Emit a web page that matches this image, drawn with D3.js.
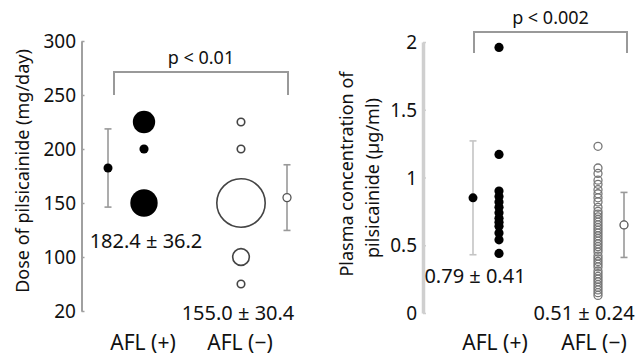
<!DOCTYPE html>
<html><head><meta charset="utf-8">
<script src="https://cdn.jsdelivr.net/npm/d3@7"></script>
<style>body{margin:0;background:#fff}svg{display:block}text{font-family:"Noto Sans",sans-serif;fill:#111}</style>
</head><body><svg id="c" width="636" height="358"></svg>
<script>
// ---- data ----
const groups = ["AFL (+)", "AFL (−)"];
// left panel: dose (mg/day) with number of patients at each dose
const doseLevelsPos = [225, 200, 150];
const doseCountsPos = [6, 1, 9];
const doseLevelsNeg = [225, 200, 150, 100, 75];
const doseCountsNeg = [1, 1, 30, 4, 1];
const doseMean = [182.4, 155.0];
const doseSD = [36.2, 30.4];
const doseLabels = ["182.4 ± 36.2", "155.0 ± 30.4"];
const doseTickValues = [300, 250, 200, 150, 100, 50];
const doseTickLabels = ["300", "250", "200", "150", "100", "20"];
const doseP = "p < 0.01";
// right panel: plasma concentration (µg/ml)
const concPos = [1.96, 1.17, 0.90, 0.86, 0.82, 0.78, 0.74, 0.70, 0.67, 0.64, 0.59, 0.54, 0.44];
const concNeg = [1.23, 1.07, 1.03, 0.98, 0.95, 0.91, 0.88, 0.85, 0.82, 0.78, 0.75, 0.73, 0.71, 0.69,
  0.67, 0.65, 0.63, 0.61, 0.59, 0.57, 0.55, 0.53, 0.51, 0.49, 0.47, 0.45, 0.42, 0.40, 0.38, 0.36,
  0.34, 0.31, 0.29, 0.27, 0.25, 0.23, 0.21, 0.19, 0.17, 0.15, 0.13];
const concMean = [0.85, 0.65];
const concSD = [0.42, 0.24];
const concLabels = ["0.79 ± 0.41", "0.51 ± 0.24"];
const concTickValues = [2, 1.5, 1, 0.5, 0];
const concTickLabels = ["2", "1.5", "1", "0.5", "0"];
const concP = "p < 0.002";

const svg = d3.select("#c");
const FT = 18;   // titles, p-values
const FN = 19;   // tick labels
const FS = 20;   // mean ± SD labels
const FG = 21;   // group labels

function axis(g, scale, x, tv) {
  const ax = d3.axisRight(scale).tickValues(tv).tickFormat(() => "").tickSize(3).tickSizeOuter(0);
  return g.append("g").attr("transform", `translate(${x},0)`).call(ax);
}

function errorBar(g, x, y, mean, sd, filled, col) {
  g.append("line").attr("x1", x).attr("x2", x).attr("y1", y(mean + sd)).attr("y2", y(mean - sd))
    .attr("stroke", col).attr("stroke-width", 1.6);
  [mean + sd, mean - sd].forEach(v => g.append("line").attr("x1", x - 3.5).attr("x2", x + 3.5)
    .attr("y1", y(v)).attr("y2", y(v)).attr("stroke", col).attr("stroke-width", 1.6));
  g.append("circle").attr("cx", x).attr("cy", y(mean)).attr("r", filled ? 4.5 : 4)
    .attr("fill", filled ? "#000" : "#fff").attr("stroke", filled ? "none" : "#555").attr("stroke-width", 1.3);
}

function bracket(g, x1, x2, yTop, yEnd, label, ty) {
  g.append("path").attr("d", `M${x1},${yEnd}V${yTop}H${x2}V${yEnd}`)
    .attr("fill", "none").attr("stroke", "#999").attr("stroke-width", 2);
  g.append("text").attr("x", (x1 + x2) / 2).attr("y", ty).attr("text-anchor", "middle")
    .attr("font-size", FT).text(label);
}

// ---------- LEFT PANEL ----------
{
  const g = svg.append("g");
  const y = d3.scaleLinear().domain([50, 300]).range([311, 41]);
  const x = d3.scalePoint().domain(groups).range([144, 241]);
  const a = axis(g, y, 81.5, doseTickValues);
  a.select(".domain").attr("stroke", "#a0a0a0").attr("stroke-width", 2);
  a.selectAll(".tick line").attr("stroke", "#a0a0a0").attr("stroke-width", 1.5);
  g.selectAll(".tl").data(doseTickValues).join("text").attr("x", 76).attr("y", d => y(d) + 7)
    .attr("text-anchor", "end").attr("font-size", FN).text((d, i) => doseTickLabels[i]);
  g.append("text").attr("transform", "translate(29,171) rotate(-90)").attr("text-anchor", "middle")
    .attr("font-size", FT).text("Dose of pilsicainide (mg/day)");

  const r = d3.scaleSqrt().domain([0, 30]).range([0, 25]);
  g.selectAll(".dp").data(doseLevelsPos).join("circle").attr("cx", x(groups[0])).attr("cy", d => y(d))
    .attr("r", (d, i) => r(doseCountsPos[i])).attr("fill", "#000");
  g.selectAll(".dn").data(doseLevelsNeg).join("circle").attr("cx", x(groups[1])).attr("cy", d => y(d))
    .attr("r", (d, i) => r(doseCountsNeg[i]) - 0.8).attr("fill", "none").attr("stroke", "#444").attr("stroke-width", 1.6);

  errorBar(g, x(groups[0]) - 36, y, doseMean[0], doseSD[0], true, "#999");
  errorBar(g, x(groups[1]) + 46, y, doseMean[1], doseSD[1], false, "#999");

  g.append("text").attr("x", 146).attr("y", 248).attr("text-anchor", "middle").attr("font-size", FS).text(doseLabels[0]);
  g.append("text").attr("x", 238).attr("y", 320).attr("text-anchor", "middle").attr("font-size", FS).text(doseLabels[1]);
  groups.forEach(k => g.append("text").attr("x", x(k) - 1).attr("y", 350).attr("text-anchor", "middle").attr("font-size", FG).text(k));
  bracket(g, 114, 288, 72, 95, doseP, 64);
}

// ---------- RIGHT PANEL ----------
{
  const g = svg.append("g");
  const y = d3.scaleLinear().domain([0, 2]).range([313, 42]);
  const x = d3.scalePoint().domain(groups).range([499, 598]);
  const a = axis(g, y, 423, concTickValues);
  a.select(".domain").attr("stroke", "#cfcfcf").attr("stroke-width", 3.5);
  a.selectAll(".tick line").attr("stroke", "#cfcfcf").attr("stroke-width", 1.5);
  g.selectAll(".tl").data(concTickValues).join("text").attr("x", 417).attr("y", d => y(d) + 7)
    .attr("text-anchor", "end").attr("font-size", FN).text((d, i) => concTickLabels[i]);
  g.append("text").attr("transform", "translate(353,174) rotate(-90)").attr("text-anchor", "middle")
    .attr("font-size", FT).text("Plasma concentration of");
  g.append("text").attr("transform", "translate(379,178) rotate(-90)").attr("text-anchor", "middle")
    .attr("font-size", FT).text("pilsicainide (µg/ml)");

  g.selectAll(".cp").data(concPos).join("circle").attr("cx", x(groups[0])).attr("cy", d => y(d))
    .attr("r", 4.6).attr("fill", "#000");
  g.selectAll(".cn").data(concNeg).join("circle").attr("cx", x(groups[1])).attr("cy", d => y(d))
    .attr("r", 4).attr("fill", "none").attr("stroke", "#777").attr("stroke-width", 1.3);

  errorBar(g, x(groups[0]) - 26, y, concMean[0], concSD[0], true, "#c4c4c4");
  errorBar(g, x(groups[1]) + 26, y, concMean[1], concSD[1], false, "#999");

  g.append("text").attr("x", 475).attr("y", 283).attr("text-anchor", "middle").attr("font-size", FS).text(concLabels[0]);
  g.append("text").attr("x", 584).attr("y", 320).attr("text-anchor", "middle").attr("font-size", FS).text(concLabels[1]);
  groups.forEach(k => g.append("text").attr("x", x(k) - 4).attr("y", 350).attr("text-anchor", "middle").attr("font-size", FG).text(k));
  bracket(g, 474, 627, 32, 53, concP, 24);
}
</script></body></html>
